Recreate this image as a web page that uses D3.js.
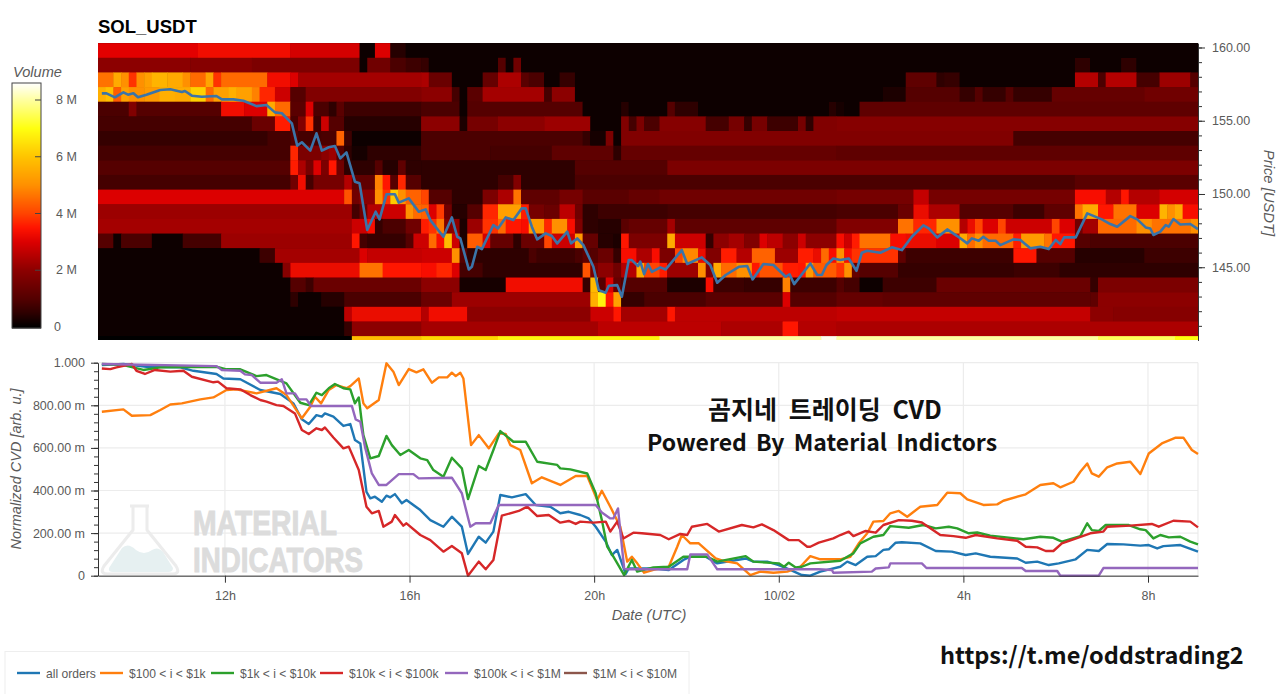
<!DOCTYPE html>
<html><head><meta charset="utf-8">
<script src="https://cdn.jsdelivr.net/npm/d3@7"></script>
<style>
html,body{margin:0;padding:0;background:#fff;overflow:hidden}
svg{display:block}
text{font-family:"Liberation Sans",Arial,sans-serif}
.tick text{fill:#5a5a5a;font-size:12.5px}
</style></head><body><svg id="c" width="1280" height="694"></svg>
<script>
// ---------- heatmap: volume in M, flat pairs of (first 10-min bin, value) per price level
const volP160=[0,3.1,13,3.3,25,2.9,34,0.1,36,3,38,0.4,40,0.1];
const volP159=[0,2.0,12,1.9,20,1.7,34,0.1,35,1.5,38,0.9,40,0.7,42,0.6,43,0.1,52,1.0,53,0.1,54,1.5,55,0.1,127,0.5,129,0.1,133,0.5,135,0.1];
const volP158=[0,4.6,2,5.5,3,5,4,3.8,5,5,6,5.3,7,5.7,9,5.5,11,5,12,4.5,14,5.4,15,3.8,16,4.5,22,3.3,25,3,26,2.3,42,2.4,43,1.4,46,0.1,50,1.3,52,2.4,55,1.1,56,0.9,58,0.1,60,0.6,62,0.1,105,1.2,109,0.5,110,0.6,112,0.1,127,2.5,130,0.9,131,2.5,135,0.8,138,2.2,142,1];
const volP157=[0,5.6,1,5.9,2,4.3,3,5.3,4,5,6,5.2,8,5.6,10,5.5,12,6.2,14,4.5,15,5.3,17,5.6,18,5.3,20,4.8,21,3.7,23,2.8,25,1,27,1.8,42,2,46,0.8,47,0.1,48,1.1,50,2.3,58,0.8,59,2,62,0.1,102,0.3,105,1,112,0.6,114,1,115,0.6,118,1,119,0.6,124,1.3,136,1.5];
const volP156=[0,0.9,4,1.8,5,1,16,3.3,19,3,22,5.5,23,4.5,25,1.1,27,3,28,0.9,30,0.5,31,1.1,32,0.7,42,0.9,47,0.1,48,1,63,0.1,68,0.4,69,0.1,74,1,75,0.5,78,0.1,95,0.4,96,0.2,97,0.1,99,1.2];
const volP155=[0,0.8,20,1.4,23,3.6,25,0.9,26,1.8,27,3.8,28,0.7,29,2.8,30,1,32,0.4,42,2,47,0.3,48,1.6,52,2,58,2.2,64,0.1,68,1.8,69,0.8,70,1.7,71,0.9,73,1.9,79,0.8,82,1.6,84,0.6,85,1.6,87,0.7,91,1.6,92,0.5,93,1.8,96,1.9];
const volP154=[0,0.6,22,0.8,25,1,26,0.8,29,0.9,31,4.4,32,0.7,33,0.15,42,0.9,63,0.6,64,0.2,66,1.7,67,0.1,68,1.8,119,0.8];
const volP153=[0,0.8,25,3.7,26,1.7,29,2,30,2.2,31,1,32,0.5,33,0.2,35,0.5,42,0.9,51,0.8,59,1.2,67,0.5,68,1.3,96,1.2];
const volP152=[0,1,25,3.6,26,2.4,27,1.6,28,3,29,1.7,30,3.5,31,1.5,32,0.5,36,1,37,0.4,39,1.2,40,0.5,42,0.5,62,1,74,1.7];
const volP151=[0,0.8,25,1.5,26,3.3,27,0.8,28,1.6,32,2.5,33,1.2,36,4.8,37,3.5,38,1,39,3.7,40,1,42,0.5,52,0.8,54,1.8,55,0.5,62,0.9,127,1.1];
const volP150=[0,3,32,4.2,33,1.5,34,2,36,5,37,3.8,38,6.1,39,5,40,4.4,42,4,43,1,46,0.5,50,1.7,52,2.4,54,4.6,55,1.2,60,1.6,63,1.1,69,1.3,73,1.5,96,1.6,106,2.7,108,1.6,127,3.4,131,2.5,133,3.5,134,2.5,138,2.9];
const volP149=[0,2.2,33,0.8,34,1.5,35,2.5,37,2.8,40,5,41,4.5,42,4.4,43,3,44,3.9,45,1.5,46,0.4,48,1,50,3.7,52,5.3,55,3.6,56,1.6,58,1.4,60,2.6,62,1.5,63,0.5,65,0.7,74,0.8,96,0.9,104,1.4,106,3.2,108,2.4,112,1,119,0.7,123,1.2,127,4.6,128,5.5,130,3.5,132,4.6,135,3,138,5.7,139,5,140,5.5,141,3.4];
const volP148=[0,2.3,33,2.8,35,3.4,36,0.6,37,0.9,40,1.5,42,3.6,43,3.8,44,4.7,45,1.8,46,2,47,0.3,48,2.2,50,3.8,52,4.5,53,3.5,55,3.4,56,5.2,58,3.7,59,5,61,3.4,62,1.7,63,0.5,65,0.4,68,1.1,69,1.3,74,2.3,75,1.2,96,1.8,104,4.6,106,3.7,109,5,112,2.5,113,3.2,114,4,115,3,117,4,118,2.8,124,4,125,3,127,1.5,128,2.3,130,4.5,135,5,137,4.6,142,5];
const volP147=[0,1,2,0.1,3,0.9,7,0.1,11,0.8,16,2.2,33,3.5,34,0.8,35,0.6,40,1,41,2.8,43,4.5,44,3.4,45,5.8,46,2.8,47,0.3,48,4.3,50,2.9,51,1.3,54,0.5,55,1.4,58,4,59,2.8,62,5.2,63,1.3,65,0.4,67,0.3,68,3.5,69,1.7,74,5.5,75,2.8,79,0.6,80,2,82,2.3,84,1.8,86,3,87,2.6,89,2,91,2.8,92,2,96,3.4,97,2.8,98,3.6,99,4.6,103,3.4,105,3.2,109,3,112,5.5,113,4.5,114,5,115,4.5,119,3.6,120,5.2,123,4.6,124,3.5,127,1,129,0.9];
const volP146=[0,0.1,21,0.7,23,2.3,34,3,35,2.7,42,2.8,46,5,47,1,48,0.5,56,0.9,57,0.7,62,0.9,63,1.2,64,1,65,1.4,67,0.6,68,3.4,70,2.4,72,3.4,73,1.7,75,4,76,4.9,78,3.2,79,1.8,81,3.6,83,2.5,85,4.4,88,2.2,91,3.6,93,3.2,94,4.5,95,3.4,96,5,97,3.4,98,3.8,104,1.2,105,0.7,119,3.5,122,1,127,0.4,136,0.7];
const volP145=[0,0.1,24,1.9,25,3.2,34,4.6,37,3.5,42,3.4,44,3.7,46,3,47,0.8,50,0.5,63,4.2,64,1.6,65,2,67,1.5,68,2.5,70,5.5,71,4,73,3.6,74,2.2,78,5,79,1.8,80,5.5,81,4.5,83,5,85,3.5,86,4.2,89,3.6,91,3.5,92,5.2,93,4.3,96,3.8,97,5,98,1.3,99,1,104,0.6,119,0.7,125,0.5];
const volP144=[0,0.1,25,1,27,0.7,28,1.4,42,2,47,0.2,53,3.3,63,0.6,64,5.8,65,1,66,3,67,1.3,68,1,74,0.3,79,3.4,80,0.7,84,0.6,89,4.8,90,0.7,96,1,97,0.8,99,0.15,102,0.7,109,1.4,129,0.6,130,1.7];
const volP143=[0,0.1,25,0.5,26,0.15,29,0.4,32,0.9,42,1.4,46,2.2,64,5.6,65,6.8,66,3.5,67,5.3,68,0.6,71,0.9,79,1.1,89,3,90,1,96,1.3,102,1.2,129,1.2,130,2];
const volP142=[0,0.1,32,2.6,33,3.2,42,2.5,43,3.3,48,2,64,2.8,67,3.5,68,2.3,74,3.5,75,2.6,96,2.7,129,2,132,1.9];
const volP141=[0,0.1,32,0.6,33,2,42,2.3,65,2.6,81,2.4,89,3.5,91,2.5,96,2.4];
const volP140=[0,0,33,5.8,42,6.3,52,6.8,73,8,94,8.5,96,8,130,7.5,140,7];
const priceLevels=[160,159,158,157,156,155,154,153,152,151,150,149,148,147,146,145,144,143,142,141,140];
const volumeRuns=[volP160,volP159,volP158,volP157,volP156,volP155,volP154,volP153,volP152,volP151,volP150,volP149,volP148,volP147,volP146,volP145,volP144,volP143,volP142,volP141,volP140];

// ---------- price line: flat pairs (10-min bin, USDT)
const priceLine=[0.5,156.87,1.1,156.87,2.2,156.6,3.3,156.94,3.9,156.78,4.6,156.87,5.2,156.6,6.3,156.78,8.1,157.1,9.4,157.15,10.9,156.96,11.3,157.03,12.2,156.71,13.5,156.64,15.4,156.69,16.1,156.46,17.6,156.46,18.9,156.37,20.6,156,21.9,156.08,23,155.57,23.9,155.51,25.2,154.82,25.9,153.3,26.5,153.53,27.6,152.96,28.4,154.14,29.1,152.96,30,153.19,30.8,153.28,31.5,152.43,32.3,152.84,33.4,150.84,34,150.73,35,147.54,36.1,148.79,36.6,148.27,37.5,149.98,38.6,149.98,39.1,149.41,40.4,149.7,41.7,148.79,42.6,148.95,43.2,148.22,44.9,147.08,46,148.4,46.7,147.08,47.1,146.97,48.2,144.85,48.6,145.03,49.3,146.4,49.9,146.24,51.4,147.88,52,147.65,53,148.4,54,148.22,55.1,149.02,55.6,149.02,56.4,147.77,57.1,146.9,58.2,147.31,59,147.13,59.7,146.63,61,147.43,61.5,146.63,62.3,146.97,63.1,146.51,64.4,145.03,65.1,143.44,66,143.26,66.4,143.74,67.5,143.78,68.1,142.99,69,145.49,69.4,145.49,70.2,145.08,70.5,145.38,71,144.53,71.5,145.22,72,144.69,73.1,144.99,73.8,144.85,75.9,146.17,76.6,145.22,78.5,145.67,79.6,145.15,80.5,143.94,81.6,144.47,83.3,145.03,84.4,145.08,85.1,144.17,86.5,145.22,87.8,145.15,89.4,144.35,89.9,144.52,90.5,143.85,92.6,145.26,93.5,144.47,94.1,144.47,94.7,145.15,95.6,145.6,96.5,145.49,97.6,145.6,98.6,144.76,99.3,145.99,100,146.13,101.7,145.99,103.2,146.36,104.5,146.17,105.8,147.08,107.3,147.86,108,147.65,109.1,147.04,110.4,147.58,111.7,147.13,113,146.63,113.6,146.97,114.5,146.81,115.1,147.08,115.8,146.81,116.7,146.81,117.3,146.51,119,146.9,119.9,146.86,121.2,146.29,122.5,146.4,123.6,146.24,124.5,146.86,125.1,146.58,125.6,147.04,127.1,147.04,128.6,148.68,130.5,148.27,131.6,147.95,132.5,147.77,134.2,148.49,135.1,148.27,136.2,147.72,136.8,147.65,137.2,147.2,138.1,147.43,138.8,147.88,139.2,147.77,139.8,148.29,140.7,147.92,142,147.95,143,147.6];

// ---------- CVD series: flat pairs (10-min bin, milli-units)
const cvdAll=[0.5,989,3.3,994,6.3,981,10.7,978,12.4,962,15.4,947,16.3,926,18.5,922,21.1,872,23.7,853,25.4,809,26.5,734,27.4,712,28.4,754,29.1,747,29.5,762,30.6,747,31.9,703,32.8,712,33.4,637,34.1,621,34.9,394,35.4,363,36,371,36.9,347,37.5,376,38,368,38.6,383,39.5,340,40.1,355,41.9,308,43.2,261,44.9,230,46,277,47.3,230,48.1,102,49.5,183,50.4,155,51.4,207,52.3,379,53.8,368,55.6,383,56.9,332,58.8,324,60.1,293,61.2,300,62.7,285,63.8,269,64.7,230,66,160,66.8,97,67.5,121,68.6,8,69,34,72.2,34,74.2,27,76.1,74,77,89,79,89,80.5,58,84.2,81,85.2,66,87,66,88.5,50,90,27,91.5,3,92.6,0,93.9,19,96.5,42,97.4,66,98.5,50,100,89,101.1,92,102.1,121,102.8,124,103.7,155,104.5,157,106.9,152,108.9,116,111,113,112.8,97,114.1,105,116,89,119.5,81,120.6,61,122.1,66,123.6,50,124.9,58,127.1,77,128.6,121,130.1,116,131.2,149,133.3,147,135.5,141,136.6,144,137.7,128,138.5,139,140.7,144,143,113];
const cvd100to1k=[0.5,770,3.3,781,4.4,751,6.8,754,8.1,778,9.4,804,10.9,809,13.3,828,15,837,16.7,872,18,875,20.6,856,23.2,880,24.5,848,26.5,739,27.6,793,28.2,840,29,809,30,872,31,895,32.3,880,32.8,890,33.9,926,34.5,809,35,786,36.5,825,37.5,997,38.4,958,39.1,895,40.4,970,41.4,955,42.3,969,43.4,906,44.3,931,45.4,931,46,953,46.5,937,47.1,953,47.5,926,48.5,613,49.5,660,50.8,598,52.1,668,53,665,53.6,613,54.9,590,56.4,434,57.7,462,60.1,426,62.1,468,63.6,468,64.9,355,65.5,399,66.6,324,67.9,230,68.8,66,69.4,89,70.1,58,71,14,72.2,27,74.2,42,75.3,136,75.9,191,77,152,78.1,152,80.3,81,81.3,70,83.1,58,84.8,3,86.1,19,87.8,14,89.6,19,91.3,42,92.6,92,93.9,77,96.5,77,97.8,89,98.9,152,100,199,100.8,254,102.1,257,103,293,104.1,304,105.2,277,106.9,324,109.1,332,110.4,390,112.1,387,113,358,115.1,332,116.9,335,117.7,352,120.6,382,122.5,426,124.2,434,125.1,415,126.8,441,127.7,488,128.6,527,129.2,480,130.1,465,131.2,509,132.5,527,134.2,535,135.5,477,136.6,574,138.3,621,140.1,648,141.1,648,142.2,590,143,571];
const cvd1kto10k=[0.5,994,3.3,989,5.9,966,8.1,978,15.4,981,16.7,969,18.5,969,20.6,937,21.9,942,24.5,903,26.3,812,27.4,801,28.4,859,29.1,848,30,880,30.8,900,31.9,880,32.8,875,33.4,809,33.9,837,34.5,660,35.4,551,36.5,562,37.5,656,38.2,613,39.3,567,40.4,590,41.9,551,42.8,543,43.6,496,44.9,465,46,554,47.3,504,48.1,360,49.5,515,50.4,496,51.4,590,52.3,679,54,629,55.6,629,57.1,535,59.7,520,60.1,504,61.4,499,63.6,480,64.7,387,65.5,261,66.2,136,67,89,68.4,3,69.4,74,70.1,19,72.2,39,74.2,42,76.1,89,79.2,89,80.5,66,84.2,92,85.2,66,88.5,58,89.2,42,89.8,61,90.7,39,91.5,42,92.6,58,96.5,70,98.2,105,99.1,152,100.8,183,102.1,191,103,233,105.4,225,107.3,238,108.9,222,110.6,230,111.7,222,113.2,199,114.3,203,116,188,120.3,171,122.5,183,124.2,178,125.3,160,127.7,186,128.6,246,129.2,214,130.1,210,131,238,134,238,135.5,218,136.2,214,137.2,175,138.1,191,139.2,180,140.7,183,142,160,143,147];
const cvd10kto100k=[0.5,973,1.6,970,2.4,978,4.4,994,5,962,6.1,947,7.4,966,9.4,958,11.1,962,12.2,934,15,908,15.6,911,16.7,880,18.5,875,19.8,848,21.1,825,21.9,817,23.2,801,24.1,797,25.6,762,26.5,684,27.4,665,28.4,692,29.1,684,29.5,696,30.6,649,31.9,598,32.6,606,33.9,496,34.9,324,35.6,293,36.5,304,37.1,230,38.2,254,38.6,285,39.7,235,40.1,246,41.9,191,43.2,167,44.9,113,46,139,47.3,105,48.1,0,49.5,66,50.4,30,51.4,74,52.5,282,54.7,304,55.8,324,57.1,280,58.6,285,60.1,249,61.2,257,62.1,243,62.7,254,64.4,249,66,254,66.6,207,67.5,254,68.3,175,69.6,202,70.7,199,73.1,191,74.2,171,75.7,196,76.6,191,77.2,230,79.2,243,80.7,207,83.7,238,85.2,227,86.3,241,87.8,214,89.8,167,91.1,167,92.2,136,92.6,136,93.7,155,95.6,175,96.5,191,97.6,207,98.2,186,99.8,210,101.1,202,102.1,238,104.1,261,105.8,258,107.1,250,109.5,191,111.2,186,112.8,178,114.1,191,116.9,175,119.5,164,120.6,136,122.1,133,123.2,116,124.2,116,125.3,152,126.8,171,129,199,130.7,207,131.2,230,134.2,235,137,243,137.9,230,139.8,258,142,254,143,227];
const cvd100kto1M=[0.5,994,15.4,984,16.1,966,18.5,962,19.1,945,20,942,21.1,906,23.2,906,23.9,922,24.5,856,25.6,856,26.1,828,27.1,828,27.7,797,33,797,33.5,734,34.1,723,34.7,606,35.6,480,36.5,426,37.5,426,39.1,477,41,477,41.7,457,46,460,47.3,387,48.4,230,49.1,246,51,246,52.1,332,64.7,332,65.5,297,66.6,269,67,269,67.6,316,68.4,34,68.8,30,76.6,30,77,100,79.2,100,80.5,30,93.7,30,95.4,27,95.6,14,100.6,19,101.1,34,102.8,39,103,58,107.1,58,107.7,36,120.1,36,120.6,22,124.7,22,125.1,0,130.1,0,130.7,36,143,36];

const legendNames=["all orders","$100 < i < $1k","$1k < i < $10k","$10k < i < $100k","$100k < i < $1M","$1M < i < $10M"];
const legendColors=["#1f77b4","#ff7f0e","#2ca02c","#d62728","#9467bd","#8c564b"];
const legendLineX=[17,100,211,320,445,564];
const timeTickBins=[16.5,40.5,64.5,88.5,112.5,136.5];
const timeTickLabels=["12h","16h","20h","10/02","4h","8h"];
const cvdTicks=[0,200,400,600,800,1000];
const cvdTickLabels=["0","200.00 m","400.00 m","600.00 m","800.00 m","1.000"];
const priceTicks=[160,155,150,145];
const volumeTicks=[0,2,4,6,8];
const volumeStops=[0,0.5,1,2,3,3.5,4,5,6,7,8,8.6];
const volumeStopColors=["#000","#2e0000","#540000","#8c0000","#dc0000","#ff1400","#ff4400","#ff9000","#ffc400","#ffff10","#ffffa0","#ffffff"];

const nBins=143;
const chunk=a=>d3.range(0,a.length,2).map(i=>[a[i],a[i+1]]);
const svg=d3.select("#c");
const x=d3.scaleLinear().domain([0,nBins]).range([98,1198]);
const yP=d3.scaleLinear().domain([140,160.3]).range([340.5,43.1]);
const yC=d3.scaleLinear().domain([0,1000]).range([575.7,362.7]);
const color=d3.scaleLinear().domain(volumeStops).range(volumeStopColors).clamp(true);

// title
svg.append("text").attr("x",98).attr("y",33).attr("font-size",18.5).attr("font-weight",700).attr("fill","#000").text("SOL_USDT");

// heat cells
const defs=svg.append("defs");
defs.append("clipPath").attr("id","hc").append("rect").attr("x",98).attr("y",43).attr("width",1100).attr("height",297);
defs.append("filter").attr("id","soft").attr("x","-1%").attr("y","-1%").attr("width","102%").attr("height","102%").append("feGaussianBlur").attr("stdDeviation",0.5);
const cells=[];
volumeRuns.forEach((runs,i)=>{
  const rs=chunk(runs);
  rs.forEach((r,k)=>{
    const end=k+1<rs.length?rs[k+1][0]:nBins;
    cells.push({price:priceLevels[i],a:r[0],b:end,v:r[1]});
  });
});
const heat=svg.append("g").attr("clip-path","url(#hc)").append("g").attr("filter","url(#soft)");
heat.append("rect").attr("x",90).attr("y",35).attr("width",1116).attr("height",312).attr("fill","#000");
heat.selectAll("rect.c").data(cells).join("rect").attr("class","c")
  .attr("x",d=>x(d.a)).attr("width",d=>x(d.b)-x(d.a)+0.5)
  .attr("y",d=>yP(d.price+0.3)).attr("height",d=>yP(Math.max(140,d.price-0.7))-yP(d.price+0.3)+0.5)
  .attr("fill",d=>color(d.v));

// price line
const line=(sx,sy)=>d3.line().x(d=>sx(d[0])).y(d=>sy(d[1]));
svg.append("path").attr("d",line(x,yP)(chunk(priceLine))).attr("fill","none").attr("stroke","#3b74a8").attr("stroke-width",2.6).attr("stroke-linejoin","round");

// price axis
const gP=svg.append("g").attr("transform","translate(1198,0)");
gP.call(d3.axisRight(yP).tickValues(d3.range(141,161)).tickSize(4).tickSizeOuter(0).tickFormat(""));
gP.call(g=>g.select(".domain").attr("stroke","#333"));
gP.selectAll(".tick line").attr("stroke","#333");
const gP2=svg.append("g").attr("transform","translate(1198,0)");
gP2.call(d3.axisRight(yP).tickValues(priceTicks).tickSize(7).tickPadding(7).tickFormat(d3.format(".2f")));
gP2.select(".domain").remove();
gP2.selectAll(".tick line").attr("stroke","#333");
svg.append("text").attr("transform","translate(1264,193) rotate(90)").attr("text-anchor","middle")
  .attr("font-size",14.8).attr("font-style","italic").attr("fill","#5a5a5a").text("Price [USDT]");

// colour bar
const yV=d3.scaleLinear().domain([0,8]).range([326.5,99.5]);
const barVals=d3.range(83,328).map(y=>yV.invert(y));
svg.append("g").selectAll("rect").data(barVals).join("rect")
  .attr("x",12).attr("width",29).attr("y",d=>yV(d)).attr("height",1.5).attr("fill",d=>color(Math.max(0,d)));
svg.append("rect").attr("x",12).attr("y",83).attr("width",29).attr("height",245).attr("fill","none").attr("stroke","#444").attr("stroke-width",1);
const gV=svg.append("g").attr("transform","translate(41,0)");
gV.call(d3.axisLeft(yV).tickValues(volumeTicks).tickSize(6).tickFormat(""));
gV.select(".domain").remove();
gV.selectAll(".tick line").attr("stroke","#444");
gV.selectAll(".tick").filter(d=>d===0).remove();
svg.append("g").selectAll("text").data(volumeTicks).join("text")
  .attr("x",d=>d===0?54:56).attr("y",d=>yV(d)+4.5).attr("font-size",12.5).attr("fill","#5a5a5a").text(d=>d===0?"0":d+" M");
svg.append("text").attr("x",13).attr("y",77).attr("font-size",14.6).attr("font-style","italic").attr("fill","#5a5a5a").text("Volume");

// CVD grid
const grid=svg.append("g").attr("stroke","#ececec").attr("stroke-width",1.2);
grid.selectAll("line.h").data(cvdTicks).join("line").attr("class","h").attr("x1",98).attr("x2",1198).attr("y1",d=>yC(d)).attr("y2",d=>yC(d));
grid.selectAll("line.v").data(timeTickBins).join("line").attr("class","v").attr("y1",362.7).attr("y2",575.7).attr("x1",d=>x(d)).attr("x2",d=>x(d));
grid.append("line").attr("x1",1198).attr("x2",1198).attr("y1",362.7).attr("y2",575.7);

// watermark
const wm=svg.append("g");
wm.append("path").attr("d","M130 506 H149 M133 506 V530 L104 566 Q99 574 108 574 H172 Q181 574 176 566 L147 530 V506")
  .attr("fill","none").attr("stroke","#ececec").attr("stroke-width",3).attr("stroke-linejoin","round");
wm.append("path").attr("d","M109 568 L122 548 Q128 542 136 550 Q144 556 152 550 Q158 546 163 552 L173 568 Q173 572 168 572 H113 Q108 572 109 568 Z").attr("fill","#e6f0f1");
wm.append("text").attr("x",193).attr("y",535).attr("font-size",35).attr("font-weight",700).attr("fill","#dcdcdc").attr("stroke","#dcdcdc").attr("textLength",144).attr("lengthAdjust","spacingAndGlyphs").text("MATERIAL");
wm.append("text").attr("x",193).attr("y",571.5).attr("font-size",35).attr("font-weight",700).attr("fill","#dcdcdc").attr("stroke","#dcdcdc").attr("textLength",170).attr("lengthAdjust","spacingAndGlyphs").text("INDICATORS");

// CVD lines
const cvdSeries=[cvdAll,cvd100to1k,cvd1kto10k,cvd10kto100k,cvd100kto1M];
svg.append("g").selectAll("path").data(cvdSeries).join("path")
  .attr("d",d=>line(x,yC)(chunk(d))).attr("fill","none").attr("stroke",(d,i)=>legendColors[i]).attr("stroke-width",2.4).attr("stroke-linejoin","round");

// CVD axes
const gL=svg.append("g").attr("transform","translate(98,0)");
gL.call(d3.axisLeft(yC).tickValues(d3.range(0,1001,40)).tickSize(4).tickSizeOuter(0).tickFormat(""));
gL.select(".domain").attr("stroke","#333");
gL.selectAll(".tick line").attr("stroke","#333");
const gL2=svg.append("g").attr("transform","translate(98,0)");
gL2.call(d3.axisLeft(yC).tickValues(cvdTicks).tickSize(7).tickPadding(6).tickFormat((d,i)=>cvdTickLabels[i]));
gL2.select(".domain").remove();
gL2.selectAll(".tick line").attr("stroke","#333");
const gB=svg.append("g").attr("transform","translate(0,575.7)");
gB.call(d3.axisBottom(x).tickValues(timeTickBins).tickSize(7).tickSizeOuter(0).tickPadding(8).tickFormat((d,i)=>timeTickLabels[i]));
gB.select(".domain").attr("stroke","#333");
gB.selectAll(".tick line").attr("stroke","#333");
svg.append("text").attr("x",649).attr("y",620).attr("text-anchor","middle").attr("font-size",14.6).attr("font-style","italic").attr("fill","#5a5a5a").text("Date (UTC)");
svg.append("text").attr("transform","translate(21,469) rotate(-90)").attr("text-anchor","middle").attr("font-size",14.5).attr("font-style","italic").attr("fill","#5a5a5a").text("Normalized CVD [arb. u.]");

// overlay captions
const cjk="'Noto Sans CJK KR','Noto Sans',sans-serif";
svg.append("text").attr("x",825).attr("y",419).attr("text-anchor","middle").attr("font-size",25).attr("font-weight",700).attr("style","font-family:"+cjk+";word-spacing:6px").attr("fill","#111").text("곰지네 트레이딩 CVD");
svg.append("text").attr("x",822).attr("y",451).attr("text-anchor","middle").attr("font-size",23).attr("font-weight",700).attr("style","font-family:"+cjk+";word-spacing:4px").attr("fill","#111").text("Powered By Material Indictors");
svg.append("text").attr("x",940).attr("y",664).attr("font-size",23.5).attr("font-weight",700).attr("style","font-family:"+cjk).attr("fill","#111").text("https://t.me/oddstrading2");

// legend
svg.append("rect").attr("x",5).attr("y",651.5).attr("width",684).attr("height",50).attr("fill","#fff").attr("stroke","#eee");
const lg=svg.append("g").selectAll("g").data(legendNames).join("g").attr("transform",(d,i)=>`translate(${legendLineX[i]},673)`);
lg.append("line").attr("x2",23).attr("stroke",(d,i)=>legendColors[i]).attr("stroke-width",2.4);
lg.append("text").attr("x",29).attr("y",4.5).attr("font-size",12.1).attr("fill","#5a5a5a").text(d=>d);
</script></body></html>
